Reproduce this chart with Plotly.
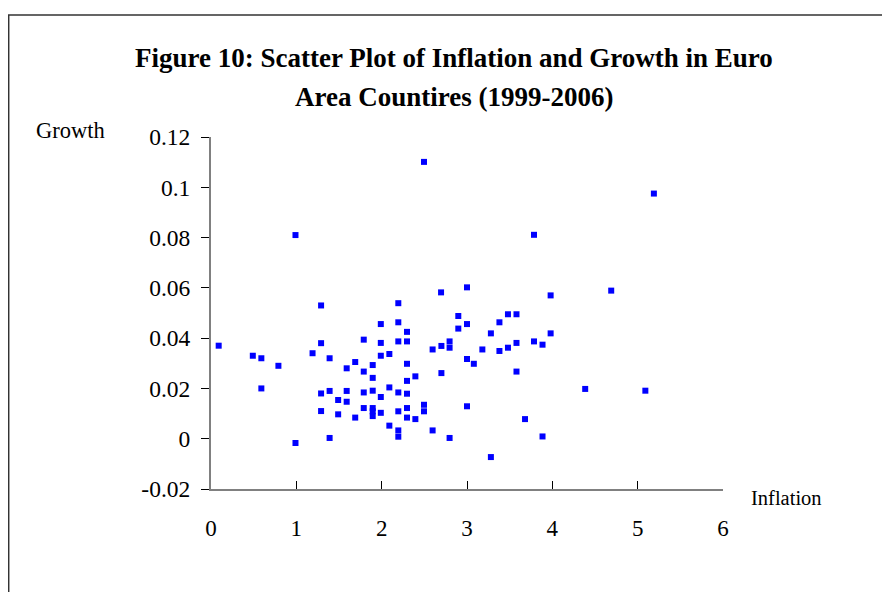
import plotly.graph_objects as go

inflation = [0.09, 0.49, 0.59, 0.79, 0.59, 0.99, 0.99, 1.29, 1.29, 1.19,
             1.39, 1.29, 1.29, 1.39, 1.39, 1.49, 1.49, 1.59, 1.59, 1.59,
             1.69, 1.69, 1.79, 1.79, 1.79, 1.79, 1.895, 1.895, 1.895, 1.895,
             1.895, 1.895, 1.99, 1.99, 1.99, 1.99, 1.99, 2.09, 2.09, 2.09,
             2.195, 2.195, 2.195, 2.195, 2.195, 2.195, 2.195, 2.297, 2.297, 2.297,
             2.297, 2.297, 2.297, 2.297, 2.395, 2.395, 2.496, 2.496, 2.496, 2.597,
             2.597, 2.696, 2.70, 2.70, 2.796, 2.796, 2.796, 2.898, 2.898, 3.0,
             3.0, 3.0, 3.0, 3.08, 3.18, 3.28, 3.28, 3.38, 3.38, 3.48,
             3.48, 3.58, 3.58, 3.58, 3.68, 3.785, 3.785, 3.885, 3.885, 3.98,
             3.98, 4.385, 4.69, 5.09, 5.19]
growth = [0.037, 0.033, 0.032, 0.029, 0.020, -0.0017, 0.081, 0.053, 0.038, 0.034,
          0.032, 0.018, 0.011, 0.019, 0.0003, 0.0154, 0.0097, 0.028, 0.019, 0.0147,
          0.0305, 0.0084, 0.0394, 0.0267, 0.0184, 0.0122, 0.0293, 0.0242, 0.0191, 0.0122,
          0.0109, 0.0090, 0.0456, 0.0381, 0.0330, 0.0166, 0.0103, 0.0337, 0.0204, 0.0052,
          0.0539, 0.0463, 0.0387, 0.0184, 0.0109, 0.0033, 0.0008, 0.0425, 0.0387, 0.0298,
          0.0230, 0.0179, 0.0122, 0.0084, 0.0248, 0.0078, 0.1101, 0.0135, 0.0109, 0.0355,
          0.0033, 0.0582, 0.0369, 0.0261, 0.0387, 0.0362, 0.0003, 0.0488, 0.0438, 0.0602,
          0.0456, 0.0317, 0.0129, 0.0298, 0.0355, 0.0419, -0.0073, 0.0463, 0.0349, 0.0495,
          0.0362, 0.0495, 0.0381, 0.0267, 0.0078, 0.0811, 0.0387, 0.0374, 0.0009, 0.0570,
          0.0419, 0.0198, 0.0589, 0.0191, 0.0975]

x_tick_vals = [0, 1, 2, 3, 4, 5, 6]
x_tick_labels = ["0", "1", "2", "3", "4", "5", "6"]
y_tick_vals = [-0.02, 0, 0.02, 0.04, 0.06, 0.08, 0.1, 0.12]
y_tick_labels = ["-0.02", "0", "0.02", "0.04", "0.06", "0.08", "0.1", "0.12"]

title_line1 = "Figure 10: Scatter Plot of Inflation and Growth in Euro"
title_line2 = "Area Countires (1999-2006)"
x_title = "Inflation"
y_title = "Growth"

FONT = "Liberation Serif, Times New Roman, serif"

# the page body adds an 8px offset; work in figure pixels = screen pixels - 8
OFF = 8
FW, FH = 890 - OFF, 592 - OFF

fig = go.Figure()
fig.add_trace(go.Scatter(
    x=inflation, y=growth, mode="markers",
    marker=dict(symbol="square", size=6, color="#0000FF", line=dict(width=0)),
    showlegend=False, hoverinfo="x+y",
))

# plot area in screen pixels: x 210.5..723, y 136.7..489
L, R, T, B = 210.5 - OFF, 723.0 - OFF, 136.7 - OFF, 489.0 - OFF
W, H = R - L, B - T


def px(xs):
    return (xs - OFF - L) / W


def py(ys):
    return (B - (ys - OFF)) / H


fig.update_layout(
    width=FW, height=FH,
    margin=dict(l=L, r=FW - R, t=T, b=FH - B),
    paper_bgcolor="white", plot_bgcolor="white",
    font=dict(family=FONT, color="black", size=23),
    xaxis=dict(
        range=[0, 6], tickmode="array", tickvals=x_tick_vals, ticktext=x_tick_labels,
        showgrid=False, zeroline=False, showline=True, linecolor="#808080", linewidth=2,
        ticks="inside", ticklen=8, tickcolor="black", tickwidth=1,
        ticklabelstandoff=17, tickfont=dict(size=23),
    ),
    yaxis=dict(
        range=[-0.02, 0.12], tickmode="array", tickvals=y_tick_vals, ticktext=y_tick_labels,
        showgrid=False, zeroline=False, showline=True, linecolor="#808080", linewidth=2,
        ticks="outside", ticklen=8, tickcolor="black", tickwidth=1,
        ticklabelstandoff=6, tickfont=dict(size=23.5),
    ),
    annotations=[
        dict(text="<b>" + title_line1 + "</b>", x=px(454), y=py(58), xref="paper", yref="paper",
             xanchor="center", yanchor="middle", showarrow=False, font=dict(size=27)),
        dict(text="<b>" + title_line2 + "</b>", x=px(454), y=py(97), xref="paper", yref="paper",
             xanchor="center", yanchor="middle", showarrow=False, font=dict(size=27)),
        dict(text=y_title, x=px(70), y=py(130), xref="paper", yref="paper",
             xanchor="center", yanchor="middle", showarrow=False, font=dict(size=22.5)),
        dict(text=x_title, x=px(787), y=py(498), xref="paper", yref="paper",
             xanchor="center", yanchor="middle", showarrow=False, font=dict(size=20.5)),
    ],
    shapes=[
        dict(type="rect", xref="paper", yref="paper",
             x0=px(8), x1=px(889), y0=py(14.5), y1=py(605),
             line=dict(color="#333333", width=1.5), fillcolor="rgba(0,0,0,0)", layer="below"),
    ],
)

fig.write_html("out.html")
